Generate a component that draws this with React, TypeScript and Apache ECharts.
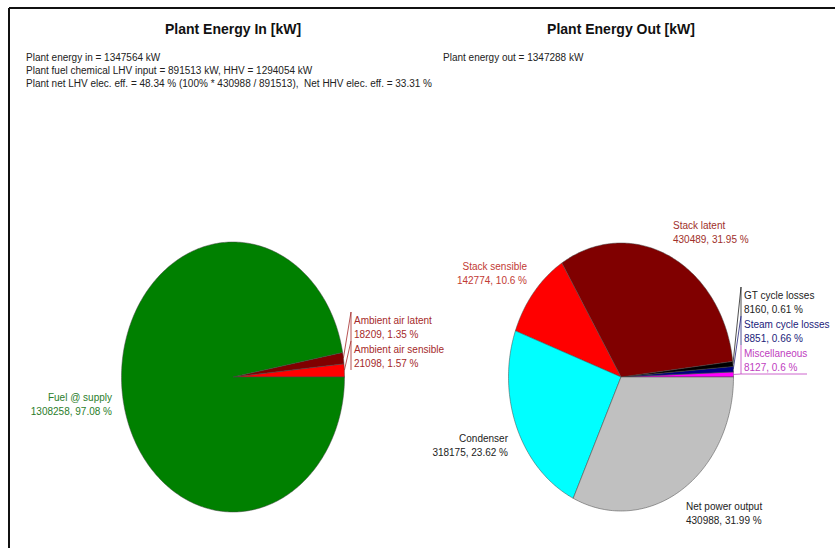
import React, { useEffect, useRef } from "react";
import * as echarts from "echarts";

// ---------- data ----------
const inNames = ["Ambient air sensible", "Ambient air latent", "Fuel @ supply"];
const inValues = [21098, 18209, 1308258];
const inPercents = [1.57, 1.35, 97.08];
const inColors = ["#ff0000", "#800000", "#008000"];
const inLabelColors = ["#a52a2a", "#a52a2a", "#2a7d2a"];

const outNames = [
  "Miscellaneous",
  "Steam cycle losses",
  "GT cycle losses",
  "Stack latent",
  "Stack sensible",
  "Condenser",
  "Net power output",
];
const outValues = [8127, 8851, 8160, 430489, 142774, 318175, 430988];
const outPercents = [0.6, 0.66, 0.61, 31.95, 10.6, 23.62, 31.99];
const outColors = ["#ff00ff", "#000080", "#000000", "#800000", "#ff0000", "#00ffff", "#c0c0c0"];
const outLabelColors = ["#c040c0", "#22227a", "#222222", "#a0302a", "#c23a34", "#222222", "#222222"];

const titles = ["Plant Energy In [kW]", "Plant Energy Out [kW]"];
const infoIn = [
  "Plant energy in = 1347564 kW",
  "Plant fuel chemical LHV input = 891513 kW, HHV = 1294054 kW",
  "Plant net LHV elec. eff. = 48.34 % (100% * 430988 / 891513),  Net HHV elec. eff. = 33.31 %",
];
const infoOut = ["Plant energy out = 1347288 kW"];

// ---------- label layout (pixel offsets from pie centre) ----------
type Lay = { dx: number; dy: number; align: "left" | "right"; leader?: "top" | "bottom" };
const inLayout: Lay[] = [
  { dx: 121, dy: -28, align: "left", leader: "top" },
  { dx: 121, dy: -57, align: "left", leader: "top" },
  { dx: -121, dy: 20, align: "right" },
];
const outLayout: Lay[] = [
  { dx: 123, dy: -24, align: "left", leader: "bottom" },
  { dx: 123, dy: -53, align: "left", leader: "top" },
  { dx: 123, dy: -82, align: "left", leader: "top" },
  { dx: 52, dy: -152, align: "left" },
  { dx: -94, dy: -111, align: "right" },
  { dx: -113, dy: 61, align: "right" },
  { dx: 65, dy: 129, align: "left" },
];

const FONT = '"Liberation Sans", Arial, sans-serif';

function makeRenderItem(
  values: number[],
  names: string[],
  pcts: number[],
  colors: string[],
  labelColors: string[],
  layout: Lay[]
) {
  const total = values.reduce((a, b) => a + b, 0);
  const starts: number[] = [];
  let acc = 0;
  values.forEach((v) => {
    starts.push(acc);
    acc += v;
  });
  return (params: any, api: any) => {
    const i = params.dataIndex;
    const v = api.value(2);
    const a0 = (starts[i] / total) * Math.PI * 2;
    const a1 = ((starts[i] + v) / total) * Math.PI * 2;
    const c = api.coord([0, 0]);
    const steps = Math.max(2, Math.ceil((a1 - a0) / (Math.PI / 180)));
    const pts: number[][] = [c];
    for (let k = 0; k <= steps; k++) {
      const t = a0 + ((a1 - a0) * k) / steps;
      pts.push(api.coord([Math.cos(t), Math.sin(t)]));
    }
    const L = layout[i];
    const lx = c[0] + L.dx;
    const ly = c[1] + L.dy;
    const children: any[] = [
      {
        type: "polygon",
        shape: { points: pts },
        style: { fill: colors[i], stroke: "#444", lineWidth: 0.5 },
      },
      {
        type: "text",
        x: lx,
        y: ly - 7,
        style: {
          text: names[i] + "\n" + values[i] + ", " + pcts[i] + " %",
          fill: labelColors[i],
          font: "10px " + FONT,
          lineHeight: 14,
          align: L.align,
          verticalAlign: "top",
        },
      },
    ];
    if (L.leader) {
      const m = (a0 + a1) / 2;
      const ap = api.coord([Math.cos(m), Math.sin(m)]);
      const bx = lx - 3;
      const top = ly - 8;
      const bottom = ly + 21;
      const lineStyle = { stroke: labelColors[i], lineWidth: 0.8, fill: null };
      if (L.leader === "top") {
        children.push({
          type: "polyline",
          shape: { points: [ap, [bx, top], [bx, bottom]] },
          style: lineStyle,
        });
      } else {
        children.push({
          type: "polyline",
          shape: { points: [[bx, top], [bx, bottom], [bx + 66, bottom]] },
          style: lineStyle,
        });
        children.push({
          type: "polyline",
          shape: { points: [ap, [bx, bottom]] },
          style: lineStyle,
        });
      }
    }
    return { type: "group", children };
  };
}

export default function App() {
  const ref = useRef<HTMLDivElement>(null);
  useEffect(() => {
    if (!ref.current) return;
    const chart = echarts.init(ref.current, null, { renderer: "svg" });
    const axisX = (gi: number) => ({
      type: "value",
      gridIndex: gi,
      min: -1,
      max: 1,
      show: false,
    });
    const textStyle = { fill: "#222", font: "10px " + FONT };
    const graphic: any[] = [
      { type: "line", shape: { x1: 9, y1: 8, x2: 835, y2: 8 }, style: { stroke: "#111", lineWidth: 2 } },
      { type: "line", shape: { x1: 9, y1: 8, x2: 9, y2: 548 }, style: { stroke: "#111", lineWidth: 2 } },
      {
        type: "text",
        x: 233,
        y: 29,
        style: { text: titles[0], fill: "#111", font: "bold 14px " + FONT, align: "center", verticalAlign: "middle" },
      },
      {
        type: "text",
        x: 621,
        y: 29,
        style: { text: titles[1], fill: "#111", font: "bold 14px " + FONT, align: "center", verticalAlign: "middle" },
      },
      ...infoIn.map((t, k) => ({
        type: "text",
        x: 26,
        y: 57 + k * 13,
        style: { ...textStyle, text: t, verticalAlign: "middle" },
      })),
      ...infoOut.map((t, k) => ({
        type: "text",
        x: 443,
        y: 57 + k * 13,
        style: { ...textStyle, text: t, verticalAlign: "middle" },
      })),
    ];
    chart.setOption({
      animation: false,
      backgroundColor: "#ffffff",
      grid: [
        { left: 121.5, top: 242, width: 223, height: 270 },
        { left: 508.5, top: 243, width: 225, height: 268 },
      ],
      xAxis: [axisX(0), axisX(1)],
      yAxis: [axisX(0), axisX(1)],
      graphic,
      series: [
        {
          type: "custom",
          xAxisIndex: 0,
          yAxisIndex: 0,
          data: inValues.map((v) => [0, 0, v]),
          renderItem: makeRenderItem(inValues, inNames, inPercents, inColors, inLabelColors, inLayout),
        },
        {
          type: "custom",
          xAxisIndex: 1,
          yAxisIndex: 1,
          data: outValues.map((v) => [0, 0, v]),
          renderItem: makeRenderItem(outValues, outNames, outPercents, outColors, outLabelColors, outLayout),
        },
      ],
    });
    return () => chart.dispose();
  }, []);
  return (
    <div
      ref={ref}
      style={{ position: "absolute", left: 0, top: 0, width: 835, height: 548 }}
    />
  );
}
